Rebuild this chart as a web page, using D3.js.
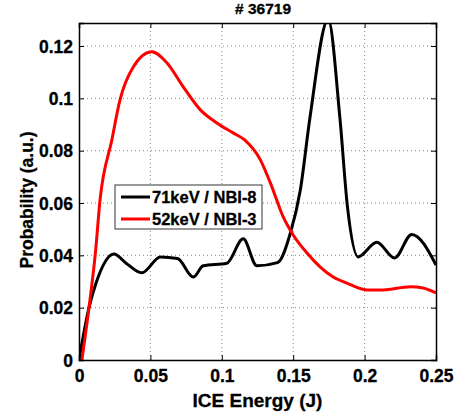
<!DOCTYPE html>
<html>
<head>
<meta charset="utf-8">
<script src="https://cdn.jsdelivr.net/npm/d3@7"></script>
<style>
  body { margin: 0; background: #fff; }
  text { font-family: "Liberation Sans", Arial, sans-serif; font-weight: bold; }
</style>
</head>
<body>
<div id="chart"></div>
<script>
// values
const energy71 = [0, 0.007, 0.012, 0.0245, 0.033, 0.044, 0.057, 0.069, 0.080, 0.087, 0.1035, 0.115, 0.1245, 0.139, 0.148, 0.155, 0.1617, 0.1745, 0.1827, 0.188, 0.1955, 0.2085, 0.221, 0.233, 0.25];
const prob71   = [0, 0.02, 0.0295, 0.0405, 0.037, 0.0333, 0.0394, 0.0388, 0.0317, 0.036, 0.037, 0.0463, 0.036, 0.0372, 0.0485, 0.065, 0.0925, 0.1302, 0.0925, 0.0585, 0.0394, 0.045, 0.039, 0.048, 0.0363];

const energy52 = [0.002, 0.007, 0.0115, 0.0147, 0.023, 0.0287, 0.038, 0.051, 0.0615, 0.073, 0.085, 0.0965, 0.108, 0.116, 0.127, 0.134, 0.143, 0.15, 0.1595, 0.1688, 0.178, 0.1876, 0.2016, 0.213, 0.232, 0.241, 0.25];
const prob52   = [0, 0.02, 0.041, 0.061, 0.0841, 0.0994, 0.112, 0.1178, 0.1136, 0.1044, 0.0956, 0.0906, 0.0868, 0.0841, 0.0765, 0.0677, 0.0547, 0.0478, 0.041, 0.0356, 0.0317, 0.0294, 0.0268, 0.0268, 0.028, 0.0275, 0.0256];

const xTicks = [0, 0.05, 0.1, 0.15, 0.2, 0.25];
const yTicks = [0, 0.02, 0.04, 0.06, 0.08, 0.1, 0.12];
const seriesNames = ["71keV / NBI-8", "52keV / NBI-3"];
const seriesColors = ["#000000", "#ff0000"];

const width = 460, height = 418;
const margin = {left: 79, right: 24, top: 23, bottom: 58};
const plotW = width - margin.left - margin.right;
const plotH = height - margin.top - margin.bottom;

const svg = d3.select("#chart").append("svg")
  .attr("width", width)
  .attr("height", height);

const x = d3.scaleLinear().domain([0, 0.25]).range([0, plotW]);
const y = d3.scaleLinear().domain([0, 0.1288]).range([plotH, 0]);

const g = svg.append("g").attr("transform", "translate(" + margin.left + "," + margin.top + ")");

// grid
g.append("g").selectAll("line").data(xTicks.slice(1, -1)).enter().append("line")
  .attr("x1", d => x(d)).attr("x2", d => x(d))
  .attr("y1", 0).attr("y2", plotH)
  .attr("stroke", "#888").attr("stroke-width", 1).attr("stroke-dasharray", "1,3");
g.append("g").selectAll("line").data(yTicks.slice(1)).enter().append("line")
  .attr("x1", 0).attr("x2", plotW)
  .attr("y1", d => y(d)).attr("y2", d => y(d))
  .attr("stroke", "#888").attr("stroke-width", 1).attr("stroke-dasharray", "1,3");

svg.append("clipPath").attr("id", "clip")
  .append("rect").attr("width", plotW).attr("height", plotH);

const line = d3.line()
  .x(d => x(d[0]))
  .y(d => y(d[1]))
  .curve(d3.curveMonotoneX);

const data71 = energy71.map((e, i) => [e, prob71[i]]);
const data52 = energy52.map((e, i) => [e, prob52[i]]);

const curves = g.append("g").attr("clip-path", "url(#clip)");
curves.append("path").datum(data71)
  .attr("d", line).attr("fill", "none")
  .attr("stroke", seriesColors[0]).attr("stroke-width", 3).attr("stroke-linejoin", "round");
curves.append("path").datum(data52)
  .attr("d", line).attr("fill", "none")
  .attr("stroke", seriesColors[1]).attr("stroke-width", 3).attr("stroke-linejoin", "round");

// axes (ticks inside, MATLAB style)
const xAxis = g.append("g").attr("transform", "translate(0," + plotH + ")")
  .call(d3.axisBottom(x).tickValues(xTicks).tickSize(-5).tickPadding(10).tickFormat(d => d3.format("")(+d.toFixed(2))));
const xTop = g.append("g")
  .call(d3.axisTop(x).tickValues(xTicks).tickSize(-5).tickFormat(""));
const yAxis = g.append("g")
  .call(d3.axisLeft(y).tickValues(yTicks).tickSize(-5).tickPadding(6).tickFormat(d => d3.format("")(+d.toFixed(2))));
const yRight = g.append("g").attr("transform", "translate(" + plotW + ",0)")
  .call(d3.axisRight(y).tickValues(yTicks).tickSize(-5).tickFormat(""));

[xAxis, xTop, yAxis, yRight].forEach(a => {
  a.select(".domain").attr("stroke", "#000").attr("stroke-width", 1.5);
  a.selectAll(".tick line").attr("stroke", "#000").attr("stroke-width", 1);
});
xAxis.selectAll("text").style("font-size", "17.5px").attr("fill", "#000")
  .attr("stroke", "#000").attr("stroke-width", 0.3);
yAxis.selectAll("text").style("font-size", "17.5px").attr("fill", "#000").attr("dy", "0.36em")
  .attr("stroke", "#000").attr("stroke-width", 0.3);

// titles
svg.append("text")
  .attr("x", 263).attr("y", 14)
  .attr("text-anchor", "middle")
  .style("font-size", "15.5px")
  .attr("stroke", "#000").attr("stroke-width", 0.3)
  .text("# 36719");

svg.append("text")
  .attr("x", margin.left + plotW / 2).attr("y", 407)
  .attr("text-anchor", "middle")
  .style("font-size", "19px")
  .attr("stroke", "#000").attr("stroke-width", 0.3)
  .text("ICE Energy (J)");

svg.append("text")
  .attr("transform", "translate(33,200) rotate(-90)")
  .attr("text-anchor", "middle")
  .style("font-size", "17.5px")
  .attr("stroke", "#000").attr("stroke-width", 0.3)
  .text("Probability (a.u.)");

// legend
const legend = svg.append("g").attr("transform", "translate(115,185)");
legend.append("rect")
  .attr("width", 147).attr("height", 44)
  .attr("fill", "#fff").attr("stroke", "#333").attr("stroke-width", 1);
const items = legend.selectAll("g.item").data(seriesNames).enter().append("g")
  .attr("class", "item")
  .attr("transform", (d, i) => "translate(0," + (12 + i * 22) + ")");
items.append("line")
  .attr("x1", 6).attr("x2", 35)
  .attr("stroke", (d, i) => seriesColors[i]).attr("stroke-width", 3);
items.append("text")
  .attr("x", 37).attr("dy", "0.36em")
  .style("font-size", "16.5px")
  .attr("stroke", "#000").attr("stroke-width", 0.3)
  .text(d => d);
</script>
</body>
</html>
